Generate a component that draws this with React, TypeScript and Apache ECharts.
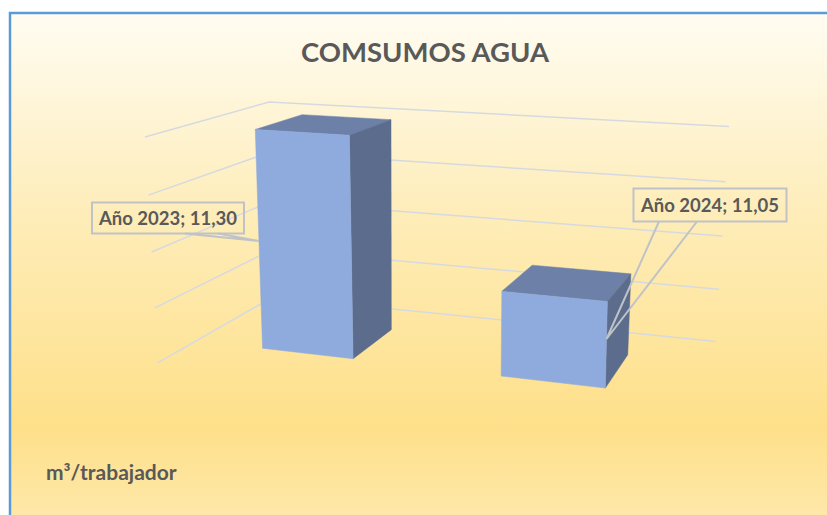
import React, { useEffect, useRef } from "react";
import * as echarts from "echarts";

const categories = ["Año 2023", "Año 2024"];
const seriesValues = [11.3, 11.05];
const gridTicks = [10.9, 11.0, 11.1, 11.2, 11.3];
const chartTitle = "COMSUMOS AGUA";
const unitLabel = "m³/trabajador";

type P = [number, number];

// perspective of the plot box: corners of floor and ceiling (back-left, back-right, front-right, front-left)
const FLOOR: P[] = [[273, 297], [716, 341.5], [675, 427], [158, 362.7]];
const CEIL: P[] = [[269, 102], [729, 126.5], [681, 172], [145, 137]];
const GAP_RATIO = 0.396; // bar width / band width
const DEPTH_BACK = 0.29;
const DEPTH_FRONT = 0.7;
const LABEL_BOXES = [
  { x: 92, y: 202.5, w: 152, h: 31, a: 185, b: 218, edge: 0, anchorH: 0.5 },
  { x: 633.5, y: 188.5, w: 153, h: 33, a: 659, b: 697, edge: 1, anchorH: 0.57 },
];

function squareToQuad(q: P[]) {
  const [[x0, y0], [x1, y1], [x2, y2], [x3, y3]] = q;
  const dx1 = x1 - x2, dx2 = x3 - x2, sx = x0 - x1 + x2 - x3;
  const dy1 = y1 - y2, dy2 = y3 - y2, sy = y0 - y1 + y2 - y3;
  const den = dx1 * dy2 - dx2 * dy1;
  const g = (sx * dy2 - dx2 * sy) / den;
  const h = (dx1 * sy - sx * dy1) / den;
  const a = x1 - x0 + g * x1, b = x3 - x0 + h * x3, c = x0;
  const d = y1 - y0 + g * y1, e = y3 - y0 + h * y3, f = y0;
  return (u: number, v: number): P => {
    const w = g * u + h * v + 1;
    return [(a * u + b * v + c) / w, (d * u + e * v + f) / w];
  };
}
const floorMap = squareToQuad(FLOOR);
const ceilMap = squareToQuad(CEIL);
function project(u: number, h: number, v: number): P {
  const f = floorMap(u, v);
  const c = ceilMap(u, v);
  const t = h / (h + (1 - h) * 1.04);
  return [f[0] + (c[0] - f[0]) * t, f[1] + (c[1] - f[1]) * t];
}

const fmt = (n: number) => n.toFixed(2).replace(".", ",");
const TEXT = "#595959";
const FONT = "Lato, 'Open Sans', sans-serif";

export default function App() {
  const ref = useRef<HTMLDivElement>(null);
  useEffect(() => {
    const chart = echarts.init(ref.current!, null, { renderer: "svg" });
    chart.setOption({
      animation: false,
      backgroundColor: "#ffffff",
      title: {
        text: chartTitle,
        left: 420,
        top: 32,
        textAlign: "center",
        textStyle: { fontFamily: FONT, fontWeight: "bold", fontSize: 27.5, color: TEXT },
      },
      graphic: [
        {
          type: "rect",
          z: -10,
          silent: true,
          shape: { x: 10, y: 13, width: 820, height: 505 },
          style: {
            fill: new echarts.graphic.LinearGradient(0, 0, 0, 1, [
              { offset: 0, color: "#FFFCF2" },
              { offset: 0.4, color: "#FEEDB9" },
              { offset: 0.82, color: "#FEE08A" },
              { offset: 1, color: "#FEE8AA" },
            ]),
            stroke: "#5B9BD5",
            lineWidth: 2.5,
          },
        },
        {
          type: "text",
          x: 46,
          y: 471,
          style: { text: unitLabel, fontFamily: FONT, fontWeight: "bold", fontSize: 21, fill: TEXT, verticalAlign: "middle" },
        },
      ],
      grid: { left: 100, top: 100, width: 600, height: 300 },
      xAxis: { type: "category", data: categories, show: false },
      yAxis: { type: "value", min: 10.9, max: 11.3, interval: 0.1, show: false },
      series: [
        {
          type: "custom",
          clip: false,
          silent: true,
          z: 1,
          data: gridTicks.map((t) => [0, t]),
          encode: { x: 0, y: 1 },
          renderItem: (params: any, api: any) => {
            const cs = params.coordSys;
            const py = api.coord([0, api.value(1)])[1];
            const h = (cs.y + cs.height - py) / cs.height;
            return {
              type: "polyline",
              shape: { points: [project(0, h, 1), project(0, h, 0), project(1, h, 0)] },
              style: { fill: "none", stroke: "#D6DAE0", lineWidth: 1.5 },
            };
          },
        },
        {
          type: "custom",
          clip: false,
          silent: true,
          z: 2,
          data: categories.map((c, i) => [i, seriesValues[i]]),
          encode: { x: 0, y: 1 },
          renderItem: (params: any, api: any) => {
            const cs = params.coordSys;
            const [px, py] = api.coord([api.value(0), api.value(1)]);
            const band = api.size([1, 0])[0];
            const u0 = (px - (band * GAP_RATIO) / 2 - cs.x) / cs.width;
            const u1 = (px + (band * GAP_RATIO) / 2 - cs.x) / cs.width;
            const h = (cs.y + cs.height - py) / cs.height;
            const v0 = DEPTH_BACK, v1 = DEPTH_FRONT;
            const poly = (points: P[], fill: string) => ({
              type: "polygon",
              shape: { points },
              style: { fill, stroke: fill, lineWidth: 0.5 },
            });
            const i = params.dataIndex;
            const box = LABEL_BOXES[i];
            const anchor = project(box.edge ? u1 : u0, h * box.anchorH, v1);
            const yb = box.y + box.h;
            return {
              type: "group",
              children: [
                poly([project(u0, h, v0), project(u1, h, v0), project(u1, h, v1), project(u0, h, v1)], "#6C80A8"),
                poly([project(u1, 0, v1), project(u1, 0, v0), project(u1, h, v0), project(u1, h, v1)], "#5C6C8C"),
                poly([project(u0, 0, v1), project(u1, 0, v1), project(u1, h, v1), project(u0, h, v1)], "#8FAADC"),
                {
                  type: "polyline",
                  shape: { points: [[box.a, yb], anchor, [box.b, yb]] },
                  style: { fill: "none", stroke: "#BFC3C8", lineWidth: 2 },
                },
                {
                  type: "rect",
                  shape: { x: box.x, y: box.y, width: box.w, height: box.h },
                  style: { fill: "none", stroke: "#BFC3C8", lineWidth: 2 },
                },
                {
                  type: "text",
                  x: box.x + box.w / 2,
                  y: box.y + box.h / 2,
                  style: {
                    text: `${categories[i]}; ${fmt(seriesValues[i])}`,
                    fontFamily: FONT,
                    fontWeight: "bold",
                    fontSize: 18.5,
                    fill: TEXT,
                    align: "center",
                    verticalAlign: "middle",
                  },
                },
              ],
            };
          },
        },
      ],
    });
    return () => chart.dispose();
  }, []);
  return <div ref={ref} style={{ position: "fixed", left: 0, top: 0, width: 827, height: 515 }} />;
}
